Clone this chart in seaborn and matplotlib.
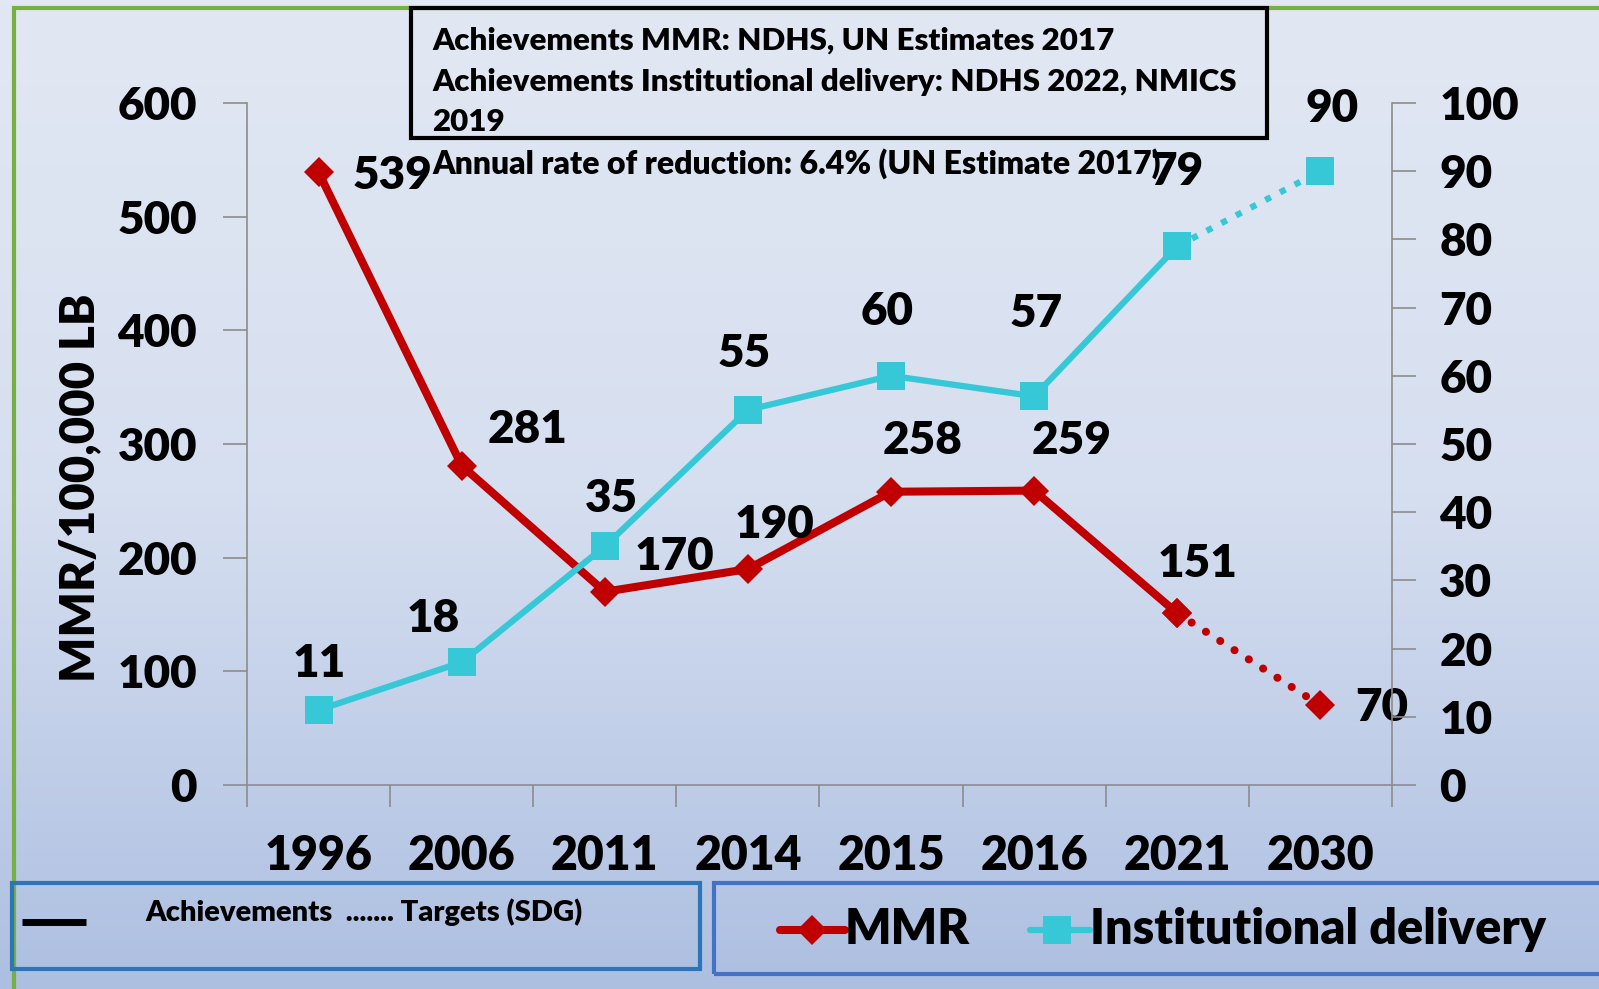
import numpy as np
import pandas as pd
import matplotlib.pyplot as plt
import seaborn as sns
from matplotlib.patches import Rectangle
from matplotlib.lines import Line2D
from matplotlib.colors import LinearSegmentedColormap

# ---------------------------------------------------------------
# Data
# ---------------------------------------------------------------
years = ["1996", "2006", "2011", "2014", "2015", "2016", "2021", "2030"]
mmr = [539, 281, 170, 190, 258, 259, 151, 70]
inst_delivery = [11, 18, 35, 55, 60, 57, 79, 90]
n_achieved = 7  # 2030 is the SDG target, drawn dotted

# label offsets (pixels) from each point
mmr_label_off = [(74, -3), (66, 36), (70, 35), (27, 45), (32, 51), (37, 50), (20, 50), (61, -2)]
inst_label_off = [(1, 46), (-28, 44), (7, 48), (-4, 56), (-4, 64), (2, 83), (0, 75), (12, 63)]

RED = "#c00000"
CYAN = "#36c8d6"
GREY = "#8c8c8c"
WEIGHT = 800

sns.set_theme(style="white")
plt.rcParams["font.family"] = ["Lato", "DejaVu Sans"]
plt.rcParams["font.weight"] = WEIGHT
plt.rcParams["text.color"] = "black"

df = pd.DataFrame({"pos": np.arange(len(years)), "mmr": mmr, "inst": inst_delivery})
achieved = df.iloc[:n_achieved]
target = df.iloc[n_achieved - 1:]

W, H = 1599, 989
fig = plt.figure(figsize=(W / 100, H / 100), dpi=100)

# background gradient
bg = fig.add_axes([0, 0, 1, 1], zorder=-10)
grad = np.linspace(0, 1, 256).reshape(-1, 1)
cmap = LinearSegmentedColormap.from_list("bg", ["#e2e8f3", "#d6dff0", "#adbfe1"])
bg.imshow(grad, aspect="auto", cmap=cmap, extent=[0, 1, 0, 1], origin="upper")
bg.axis("off")

ax = fig.add_axes([247 / W, 1 - 785 / H, (1392 - 247) / W, (785 - 103) / H])
ax.patch.set_alpha(0)
ax2 = ax.twinx()
ax2.patch.set_alpha(0)

# MMR
sns.lineplot(data=achieved, x="pos", y="mmr", ax=ax, color=RED, lw=5.8,
             marker="D", markersize=15, markeredgewidth=0)
sns.lineplot(data=target, x="pos", y="mmr", ax=ax, color=RED, lw=5.8,
             linestyle=(0, (0.01, 2.1)), dash_capstyle="round", marker="D", markersize=15, markeredgewidth=0)
# Institutional delivery
sns.lineplot(data=achieved, x="pos", y="inst", ax=ax2, color=CYAN, lw=4.5,
             marker="s", markersize=20, markeredgewidth=0)
sns.lineplot(data=target, x="pos", y="inst", ax=ax2, color=CYAN, lw=4.5,
             linestyle=":", marker="s", markersize=20, markeredgewidth=0)

for i, v in enumerate(mmr):
    ax.annotate(str(v), (i, v), xytext=mmr_label_off[i], textcoords="offset pixels",
                ha="center", va="center", fontsize=33, fontweight=WEIGHT, color="black")
for i, v in enumerate(inst_delivery):
    ax2.annotate(str(v), (i, v), xytext=inst_label_off[i], textcoords="offset pixels",
                 ha="center", va="center", fontsize=33, fontweight=WEIGHT, color="black")

# axes
ax.set_xlim(-0.5, len(years) - 0.5)
ax.set_ylim(0, 600)
ax2.set_ylim(0, 100)
ax.set_yticks(range(0, 601, 100))
ax2.set_yticks(range(0, 101, 10))
ax.set_xticks(np.arange(-0.5, len(years), 1))
ax.set_xticklabels([])
ax.set_xticks(np.arange(len(years)), minor=True)
ax.set_xticklabels(years, minor=True)
ax.set_xlabel("")
ax.set_ylabel("")
ax2.set_ylabel("")

ax.tick_params(axis="x", which="major", length=16, width=1.2, color=GREY, direction="out", bottom=True)
ax.tick_params(axis="x", which="minor", length=0, pad=35, labelsize=33.5, labelcolor="black", bottom=True)
ax.tick_params(axis="y", length=17, width=1.2, color=GREY, direction="out", pad=19, labelsize=33,
               labelcolor="black", left=True)
ax2.tick_params(axis="y", length=17, width=1.2, color=GREY, direction="out", pad=17, labelsize=33,
                labelcolor="black", right=True)

for s in ["top", "right"]:
    ax.spines[s].set_visible(False)
for s in ["top", "left", "bottom"]:
    ax2.spines[s].set_visible(False)
for s in ["left", "bottom"]:
    ax.spines[s].set_color(GREY)
    ax.spines[s].set_linewidth(1.2)
ax2.spines["right"].set_color(GREY)
ax2.spines["right"].set_linewidth(1.2)

fig.text(80 / W, 1 - 488 / H, "MMR/100,000 LB", rotation=90, fontsize=34,
         fontweight=WEIGHT, ha="center", va="center")

# outer green frame
fig.add_artist(Rectangle((14 / W, -0.1), 1.2, 1.1 - 8 / H, transform=fig.transFigure,
                         fill=False, ec="#76b041", lw=3))

# source box
fig.add_artist(Rectangle((411 / W, 1 - 138 / H), (1267 - 411) / W, 130 / H,
                         transform=fig.transFigure, fill=False, ec="black", lw=3))
for yy, txt in zip([41, 82, 122], ["Achievements MMR: NDHS, UN Estimates 2017",
                                   "Achievements Institutional delivery: NDHS 2022, NMICS",
                                   "2019"]):
    fig.text(432 / W, 1 - yy / H, txt, fontsize=22.5, fontweight=WEIGHT, ha="left", va="center")
fig.text(432 / W, 1 - 164 / H, "Annual rate of reduction: 6.4% (UN Estimate 2017)",
         fontsize=23, fontweight=WEIGHT, ha="left", va="center")

# legend boxes
fig.add_artist(Rectangle((12 / W, 1 - 969 / H), 688 / W, 86 / H, transform=fig.transFigure,
                         fill=False, ec="#2e75b6", lw=3))
fig.add_artist(Line2D([22 / W, 86 / W], [1 - 922 / H] * 2, transform=fig.transFigure,
                      color="black", lw=5, solid_capstyle="butt"))
fig.text(145 / W, 1 - 912 / H, "Achievements  ....... Targets (SDG)", fontsize=21,
         fontweight=WEIGHT, ha="left", va="center")

fig.add_artist(Rectangle((714 / W, 1 - 974 / H), 1.0, 91 / H, transform=fig.transFigure,
                         fill=False, ec="#4472c4", lw=3))
ly = 1 - 930 / H
fig.add_artist(Line2D([780 / W, 812 / W, 845 / W], [ly] * 3, transform=fig.transFigure,
                      color=RED, lw=5.8, marker="D", markersize=15, markevery=[1], markeredgewidth=0))
fig.text(845 / W, ly, "MMR", fontsize=35, fontweight=WEIGHT, ha="left", va="center")
fig.add_artist(Line2D([1030 / W, 1057 / W, 1090 / W], [ly] * 3, transform=fig.transFigure,
                      color=CYAN, lw=4.5, marker="s", markersize=20, markevery=[1], markeredgewidth=0))
fig.text(1090 / W, ly, "Institutional delivery", fontsize=35, fontweight=WEIGHT, ha="left", va="center")

fig.savefig("out.png", dpi=100)
